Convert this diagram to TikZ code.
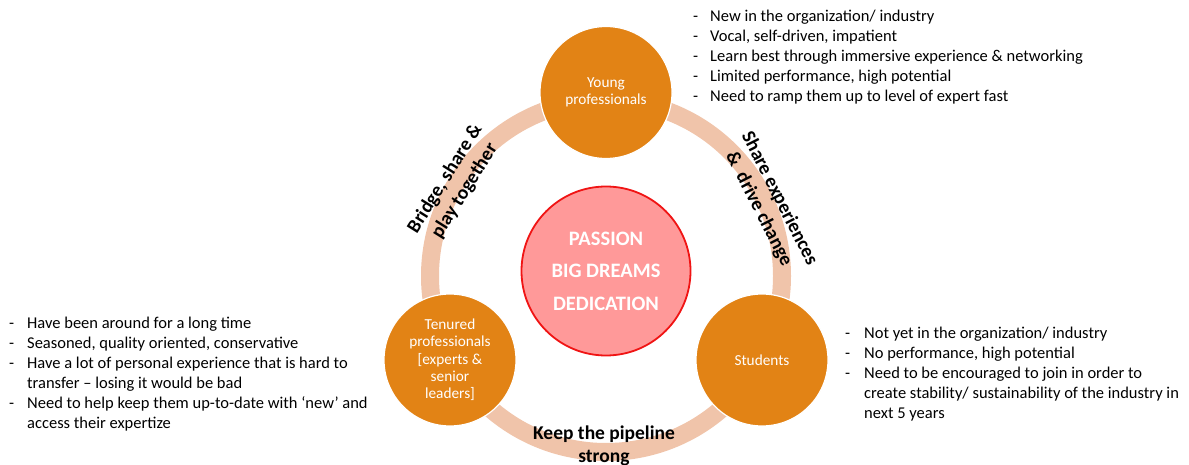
\documentclass[tikz,border=0pt]{standalone}
\usepackage{fontspec}
\setmainfont{Carlito}
\definecolor{stagefill}{RGB}{226,131,21}
\definecolor{ringcol}{RGB}{240,196,170}
\definecolor{corefill}{RGB}{255,153,153}
\definecolor{coreline}{RGB}{240,20,20}

\begin{document}
\begin{tikzpicture}[x=1pt,y=-1pt,
  stage/.style={circle, fill=stagefill, draw=white, line width=1.2pt,
    minimum size=132pt, inner sep=0pt, text=white, align=center,
    font=\fontsize{15.3}{17.3}\selectfont},
  core/.style={circle, fill=corefill, draw=coreline, line width=1.8pt,
    minimum size=169pt, inner sep=0pt},
  coretext/.style={text=white, align=center, inner sep=0pt,
    font=\fontsize{20.5}{32.5}\selectfont\bfseries},
  ringlabel/.style={align=center, inner sep=0pt,
    font=\fontsize{19.5}{23}\selectfont\bfseries},
  bullets/.style={anchor=north west, inner sep=0pt,
    font=\fontsize{16.5}{20}\selectfont},
  ring/.style={draw=ringcol, line width=18pt}
]
\useasboundingbox (0,0) rectangle (1189,465);

% connecting ring behind the three stages
\coordinate (ringc) at (606,276);
\draw[ring] (ringc) circle (176);

% stages
\node[stage] (young) at (606,92.5) {Young\\professionals};
\node[stage] (tenured) at (450,360) {Tenured\\professionals\\{[}experts \&\\senior\\leaders{]}};
\node[stage] (students) at (762,360) {Students};

% core values
\node[core] (core) at (606,271) {};
\node[coretext] (coretxt) at (core.center) {PASSION\\BIG DREAMS\\DEDICATION};

% ring labels
\node[ringlabel, rotate=58] (lbridge) at (455,185) {Bridge, share \&\\play together};
\node[ringlabel, rotate=-63] (lshare) at (769,204) {Share experiences\\\&\ \ drive change};
\node[ringlabel] (lpipe) at (604,445.5) {Keep the pipeline\\strong};

% descriptions
\node[bullets] (dyoung) at (693,7) {%
  \begin{tabular}{@{}p{17pt}@{}l@{}}
  - & New in the organization/ industry\\
  - & Vocal, self-driven, impatient\\
  - & Learn best through immersive experience \& networking\\
  - & Limited performance, high potential\\
  - & Need to ramp them up to level of expert fast
  \end{tabular}};

\node[bullets] (dtenured) at (9,314) {%
  \begin{tabular}{@{}p{18pt}@{}l@{}}
  - & Have been around for a long time\\
  - & Seasoned, quality oriented, conservative\\
  - & Have a lot of personal experience that is hard to\\
    & transfer -- losing it would be bad\\
  - & Need to help keep them up-to-date with ‘new’ and\\
    & access their expertize
  \end{tabular}};

\node[bullets] (dstudents) at (845,324.5) {%
  \begin{tabular}{@{}p{19pt}@{}l@{}}
  - & Not yet in the organization/ industry\\
  - & No performance, high potential\\
  - & Need to be encouraged to join in order to\\
    & create stability/ sustainability of the industry in\\
    & next 5 years
  \end{tabular}};
\end{tikzpicture}
\end{document}
